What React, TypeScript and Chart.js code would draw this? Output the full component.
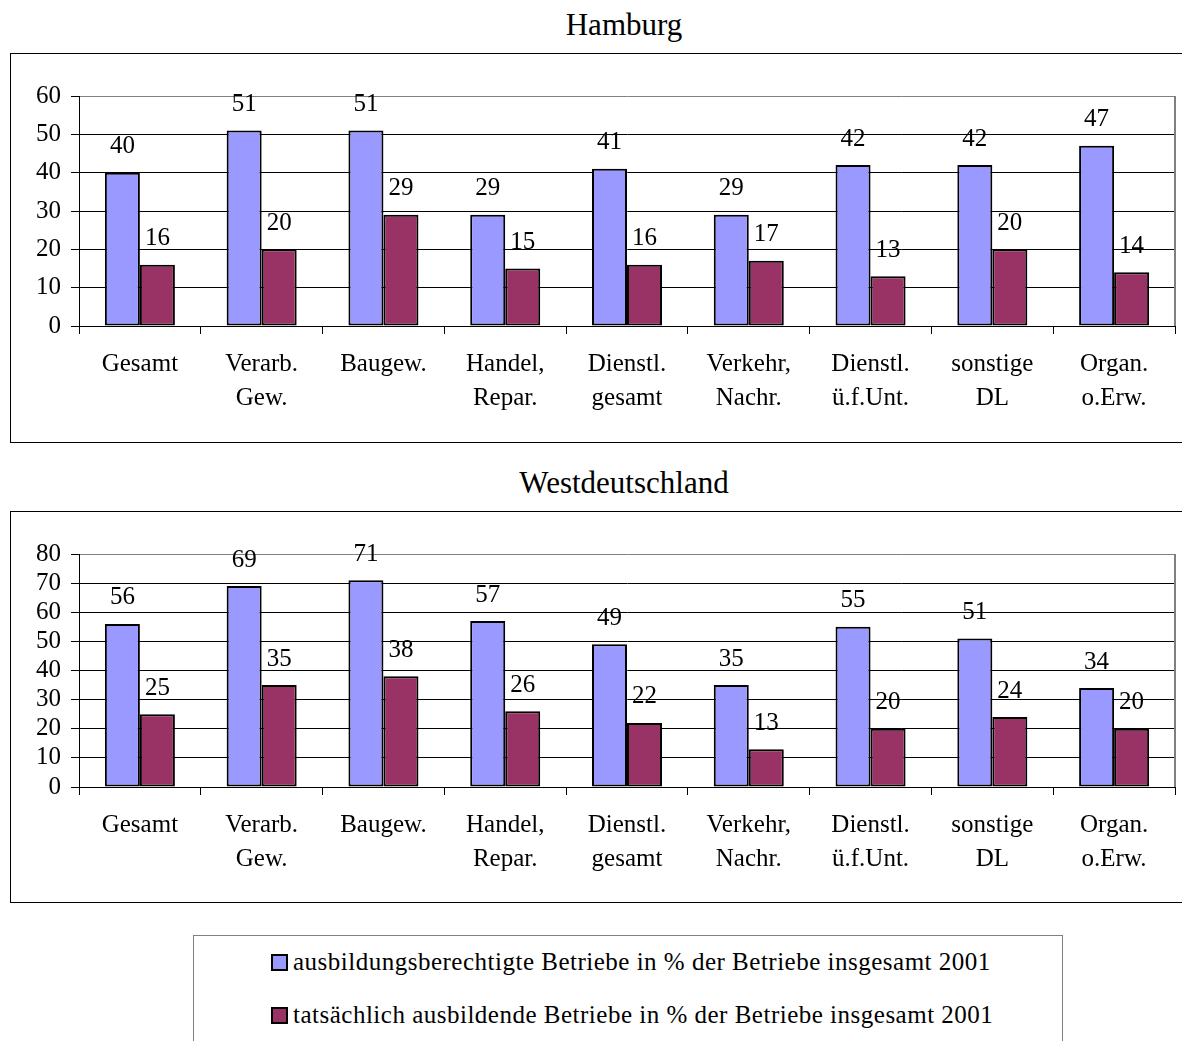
import React, { useEffect, useRef } from "react";
import { Chart, registerables } from "chart.js";

Chart.register(...registerables);

const categories: string[][] = [
  ["Gesamt"],
  ["Verarb.", "Gew."],
  ["Baugew."],
  ["Handel,", "Repar."],
  ["Dienstl.", "gesamt"],
  ["Verkehr,", "Nachr."],
  ["Dienstl.", "ü.f.Unt."],
  ["sonstige", "DL"],
  ["Organ.", "o.Erw."],
];

const seriesNames = [
  "ausbildungsberechtigte Betriebe in % der Betriebe insgesamt 2001",
  "tatsächlich ausbildende Betriebe in % der Betriebe insgesamt 2001",
];
const seriesColors = ["#9999FF", "#993366"];

const hamburgBerechtigt = [40, 51, 51, 29, 41, 29, 42, 42, 47];
const hamburgAusbildend = [16, 20, 29, 15, 16, 17, 13, 20, 14];
const westBerechtigt = [56, 69, 71, 57, 49, 35, 55, 51, 34];
const westAusbildend = [25, 35, 38, 26, 22, 13, 20, 24, 20];

const hamburgMax = 60;
const westMax = 80;

const FONT = '"Liberation Serif", "Times New Roman", serif';

const valueLabels = {
  id: "valueLabels",
  afterDatasetsDraw(chart: any) {
    const ctx = chart.ctx;
    ctx.save();
    ctx.font = `25px ${FONT}`;
    ctx.fillStyle = "#000";
    ctx.textAlign = "center";
    ctx.textBaseline = "middle";
    chart.data.datasets.forEach((ds: any, i: number) => {
      const meta = chart.getDatasetMeta(i);
      meta.data.forEach((bar: any, j: number) => {
        ctx.fillText(String(ds.data[j]), bar.x, bar.y - 26);
      });
    });
    ctx.restore();
  },
};

const plotBorder = {
  id: "plotBorder",
  beforeDatasetsDraw(chart: any) {
    const { ctx, chartArea } = chart;
    ctx.save();
    ctx.strokeStyle = "#808080";
    ctx.lineWidth = 2;
    ctx.beginPath();
    ctx.moveTo(chartArea.right, chartArea.top);
    ctx.lineTo(chartArea.right, chartArea.bottom);
    ctx.stroke();
    ctx.restore();
  },
};

function BarPanel(props: {
  a: number[];
  b: number[];
  max: number;
  width: number;
  height: number;
  plotBottom: number;
}) {
  const ref = useRef<HTMLCanvasElement>(null);
  useEffect(() => {
    if (!ref.current) return;
    const chart = new Chart(ref.current, {
      type: "bar",
      data: {
        labels: categories,
        datasets: [
          {
            label: seriesNames[0],
            data: props.a,
            backgroundColor: seriesColors[0],
            borderColor: "#000",
            borderWidth: 2,
            borderSkipped: false,
            categoryPercentage: 0.575,
            barPercentage: 1,
          },
          {
            label: seriesNames[1],
            data: props.b,
            backgroundColor: seriesColors[1],
            borderColor: "#000",
            borderWidth: 2,
            borderSkipped: false,
            categoryPercentage: 0.575,
            barPercentage: 1,
          },
        ],
      },
      options: {
        animation: false,
        responsive: false,
        devicePixelRatio: 1,
        layout: { padding: { top: 42, right: 8, left: 0, bottom: 0 } },
        plugins: {
          legend: { display: false },
          title: { display: false },
          tooltip: { enabled: false },
        },
        scales: {
          x: {
            ticks: {
              font: { family: FONT, size: 25, lineHeight: 1.38 },
              color: "#000",
              padding: 13,
              maxRotation: 0,
              autoSkip: false,
            },
            grid: {
              drawOnChartArea: false,
              drawTicks: true,
              tickLength: 8,
              color: "#000",
              offset: true,
            },
            border: { color: "#000", width: 1 },
            afterFit: (s: any) => {
              s.height = props.height - props.plotBottom;
            },
          },
          y: {
            min: 0,
            max: props.max,
            ticks: {
              stepSize: 10,
              autoSkip: false,
              font: { family: FONT, size: 25, lineHeight: 1 },
              color: "#000",
              padding: 10,
            },
            grid: {
              color: (c: any) =>
                c.tick && c.tick.value === props.max ? "#808080" : "#000",
              tickColor: "#000",
              tickLength: 8,
              lineWidth: 1,
            },
            border: { color: "#000", width: 1 },
            afterFit: (s: any) => {
              s.width = 68;
            },
          },
        },
      },
      plugins: [plotBorder, valueLabels],
    } as any);
    return () => chart.destroy();
  }, []);
  return (
    <canvas
      ref={ref}
      width={props.width}
      height={props.height}
      style={{ position: "absolute", left: 0, top: 0, width: props.width, height: props.height }}
    />
  );
}

const titleStyle: React.CSSProperties = {
  position: "absolute",
  left: 374,
  width: 500,
  textAlign: "center",
  fontFamily: FONT,
  fontSize: 31,
  lineHeight: "31px",
  color: "#000",
  whiteSpace: "nowrap",
};

export default function App() {
  return (
    <div
      style={{
        position: "absolute",
        left: 0,
        top: 0,
        width: 1182,
        height: 1041,
        overflow: "hidden",
        background: "#fff",
      }}
    >
      <div style={{ ...titleStyle, top: 9 }}>Hamburg</div>
      <div
        style={{
          position: "absolute",
          left: 10,
          top: 53,
          width: 1190,
          height: 390,
          border: "1px solid #000",
          boxSizing: "border-box",
        }}
      >
        <BarPanel
          a={hamburgBerechtigt}
          b={hamburgAusbildend}
          max={hamburgMax}
          width={1172}
          height={390}
          plotBottom={272}
        />
      </div>

      <div style={{ ...titleStyle, top: 467 }}>Westdeutschland</div>
      <div
        style={{
          position: "absolute",
          left: 10,
          top: 511,
          width: 1190,
          height: 392,
          border: "1px solid #000",
          boxSizing: "border-box",
        }}
      >
        <BarPanel
          a={westBerechtigt}
          b={westAusbildend}
          max={westMax}
          width={1172}
          height={392}
          plotBottom={275}
        />
      </div>

      <div
        style={{
          position: "absolute",
          left: 193,
          top: 935,
          width: 870,
          height: 130,
          border: "1px solid #808080",
          boxSizing: "border-box",
        }}
      />
      {seriesNames.map((name, i) => (
        <div
          key={name}
          style={{
            position: "absolute",
            left: 271,
            top: i === 0 ? 947 : 1000,
            height: 30,
            display: "flex",
            alignItems: "center",
            fontFamily: FONT,
            fontSize: 25,
            lineHeight: "30px",
            letterSpacing: "0.5px",
            whiteSpace: "nowrap",
            color: "#000",
          }}
        >
          <span
            style={{
              display: "inline-block",
              width: 17,
              height: 17,
              boxSizing: "border-box",
              border: "2px solid #000",
              background: seriesColors[i],
              marginRight: 5,
            }}
          />
          <span>{name}</span>
        </div>
      ))}
    </div>
  );
}
